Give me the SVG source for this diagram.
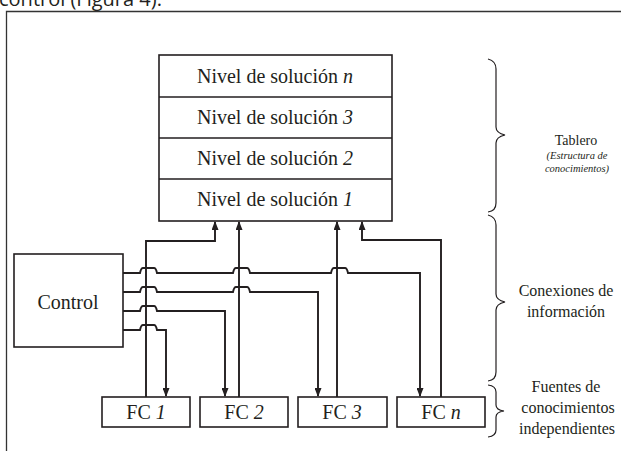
<svg xmlns="http://www.w3.org/2000/svg" width="621" height="451" viewBox="0 0 621 451">
<style>
.box{fill:#fff;stroke:#231f20;stroke-width:1.6}
.t{font-family:'Liberation Serif','Times New Roman',Tinos,'DejaVu Serif',serif;fill:#231f20;text-anchor:middle}
.big{font-size:20px}
.c{fill:none;stroke:#231f20;stroke-width:1.9}
.br{fill:none;stroke:#231f20;stroke-width:1.2}
</style>
<defs>
<marker id="ah" markerUnits="userSpaceOnUse" markerWidth="9" markerHeight="7" refX="8" refY="3.5" orient="auto">
<path d="M0,0 L9,3.5 L0,7 z" fill="#231f20"/>
</marker>
</defs>
<text x="-1" y="6" font-family="'Open Sans','Liberation Sans',sans-serif" font-size="20" fill="#231f20">control (Figura 4).</text>
<path d="M6.5,451 V11.5 H621" fill="none" stroke="#333" stroke-width="1.3"/>

<g id="tablero">
<rect class="box" x="159" y="55" width="233" height="166"/>
<path d="M159,97 H392 M159,138 H392 M159,179 H392" stroke="#231f20" stroke-width="1.6"/>
<text class="t big" x="275" y="83">Nivel de solución <tspan font-style="italic">n</tspan></text>
<text class="t big" x="275" y="124">Nivel de solución <tspan font-style="italic">3</tspan></text>
<text class="t big" x="275" y="165">Nivel de solución <tspan font-style="italic">2</tspan></text>
<text class="t big" x="275" y="206">Nivel de solución <tspan font-style="italic">1</tspan></text>
</g>

<g id="control">
<rect class="box" x="14" y="254" width="109" height="93"/>
<text class="t big" x="68" y="309">Control</text>
</g>

<g id="fc1"><rect class="box" x="102" y="397" width="88" height="30"/><text class="t big" x="146" y="419">FC <tspan font-style="italic">1</tspan></text></g>
<g id="fc2"><rect class="box" x="200" y="397" width="88" height="30"/><text class="t big" x="244" y="419">FC <tspan font-style="italic">2</tspan></text></g>
<g id="fc3"><rect class="box" x="298" y="397" width="89" height="30"/><text class="t big" x="342" y="419">FC <tspan font-style="italic">3</tspan></text></g>
<g id="fcn"><rect class="box" x="397" y="397" width="88" height="30"/><text class="t big" x="441" y="419">FC <tspan font-style="italic">n</tspan></text></g>

<g id="connectors">
<path class="c" d="M146,397 V241 H215 V222" marker-end="url(#ah)"/>
<path class="c" d="M239,397 V222" marker-end="url(#ah)"/>
<path class="c" d="M337,397 V222" marker-end="url(#ah)"/>
<path class="c" d="M441,397 V240 H362 V222" marker-end="url(#ah)"/>
<path class="c" d="M123,273 H140 Q141,268 143,268 H154 Q156,268 157,273 H233 Q234,268 236,268 H247 Q249,268 250,273 H331 Q332,268 334,268 H345 Q347,268 348,273 H420 V396" marker-end="url(#ah)"/>
<path class="c" d="M123,292 H140 Q141,287 143,287 H154 Q156,287 157,292 H233 Q234,287 236,287 H247 Q249,287 250,292 H318 V396" marker-end="url(#ah)"/>
<path class="c" d="M123,311 H140 Q141,306 143,306 H154 Q156,306 157,311 H225 V396" marker-end="url(#ah)"/>
<path class="c" d="M123,330 H140 Q141,325 143,325 H154 Q156,325 157,330 H166 V396" marker-end="url(#ah)"/>
</g>

<g id="brace-tablero">
<path class="br" d="M488,59 Q496,61 496,69 V127 Q496,133 505,135 Q496,137 496,143 V203 Q496,211 488,212"/>
<text class="t" x="576" y="145" font-size="14">Tablero</text>
<text class="t" x="577" y="159" font-size="10.5" font-style="italic">(Estructura de</text>
<text class="t" x="577" y="172" font-size="10.5" font-style="italic">conocimientos)</text>
</g>
<g id="brace-conexiones">
<path class="br" d="M488,215 Q496,217 496,225 V294 Q496,300 505,302 Q496,304 496,310 V372 Q496,380 488,381"/>
<text class="t" x="566" y="296" font-size="16">Conexiones de</text>
<text class="t" x="566" y="317" font-size="16">información</text>
</g>
<g id="brace-fuentes">
<path class="br" d="M488,385 Q496,386 496,392 V405 Q496,410 504,411 Q496,412 496,417 V430 Q496,436 488,437"/>
<text class="t" x="566" y="392" font-size="16">Fuentes de</text>
<text class="t" x="568" y="413" font-size="16">conocimientos</text>
<text class="t" x="567" y="434" font-size="16">independientes</text>
</g>
</svg>
